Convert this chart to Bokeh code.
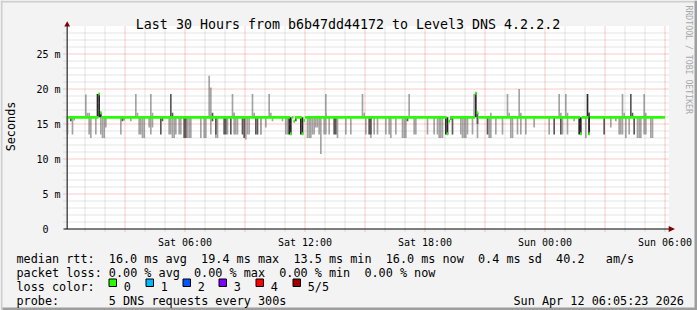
import math
import re
from bokeh.plotting import figure
from bokeh.models import Range1d, ColumnDataSource
from bokeh.core.properties import value
from bokeh.embed import file_html
from bokeh.resources import INLINE

# ---------------- data ----------------
title_text = "Last 30 Hours from b6b47dd44172 to Level3 DNS 4.2.2.2"
y_label = "Seconds"
watermark = "RRDTOOL / TOBI OETIKER"
x_ticks = [6, 12, 18, 24, 30]                       # hours since Sat 00:00
x_tick_labels = ["Sat 06:00", "Sat 12:00", "Sat 18:00", "Sun 00:00", "Sun 06:00"]
y_ticks = [0, 5, 10, 15, 20, 25]                    # milliseconds
y_tick_labels = ["0\u00a0\u00a0", "5 m", "10 m", "15 m", "20 m", "25 m"]

step_hours = 5 / 60          # one 5-minute RRD step
first_step, last_step = 1, 359
median_base = 15.95          # ms, median rtt most of the time

# smoke below the median: hour of step, lowest ping (ms), shade (l=light, d=dark, k=black)
dn_h = [0.15, 0.25, 0.37, 0.45, 1.22, 1.32, 1.52, 1.80, 1.90, 1.98,
        2.08, 2.75, 2.85, 2.97, 3.33, 3.70, 3.77, 3.85, 3.92, 4.22,
        4.30, 4.40, 4.78, 4.88, 5.20, 5.27, 5.35, 5.42, 5.50, 5.70,
        5.83, 5.95, 6.03, 6.13, 6.20, 6.28, 6.83, 6.92, 7.00, 7.30,
        7.38, 7.50, 7.58, 7.65, 7.95, 8.03, 8.15, 8.30, 8.47, 8.55,
        8.65, 8.85, 8.93, 9.00, 9.10, 9.22, 9.55, 9.63, 9.75, 9.82,
        10.00, 10.35, 10.88, 11.07, 11.15, 11.23, 11.32, 11.50, 11.83, 11.90,
        12.15, 12.23, 12.31, 12.40, 12.48, 12.57, 12.65, 12.72, 12.80, 12.97,
        13.05, 13.22, 13.47, 13.55, 13.65, 14.07, 14.32, 15.05, 15.20, 15.27,
        15.33, 15.48, 15.65, 16.02, 16.23, 16.30, 16.52, 16.87, 16.95, 17.03,
        17.10, 17.47, 17.53, 18.15, 18.45, 18.65, 18.73, 18.82, 18.90, 19.05,
        19.13, 19.30, 19.40, 19.78, 19.85, 19.93, 20.00, 20.15, 20.38, 20.60,
        20.65, 21.10, 21.18, 21.26, 21.50, 21.88, 22.33, 22.40, 22.60, 22.80,
        23.05, 23.48, 24.20, 24.47, 24.75, 24.88, 25.15, 25.45, 25.72, 25.80,
        26.03, 26.17, 26.23, 26.97, 27.30, 27.55, 27.70, 27.77, 27.85, 28.00,
        28.20, 28.47, 28.63, 28.72, 28.80, 28.93, 29.00, 29.33, 29.40]
dn_lo = [13.5, 15.4, 13.5, 15.5, 13.5, 13.0, 13.5, 13.5, 13.0, 13.0,
         14.5, 13.5, 15.4, 15.5, 15.4, 13.5, 13.5, 13.0, 13.0, 14.5,
         13.5, 14.5, 13.5, 15.4, 13.5, 13.5, 13.0, 13.0, 13.5, 13.5,
         13.5, 13.0, 13.0, 13.0, 13.0, 13.0, 13.0, 13.0, 13.0, 13.5,
         15.4, 13.5, 13.0, 13.0, 13.5, 13.5, 13.5, 13.5, 13.5, 13.5,
         13.5, 13.5, 13.0, 12.8, 13.5, 13.5, 13.5, 13.5, 13.5, 13.5,
         14.5, 15.4, 15.4, 13.5, 13.5, 13.5, 13.5, 15.4, 13.5, 13.5,
         13.0, 13.0, 13.0, 13.5, 13.5, 14.5, 14.5, 13.5, 10.7, 13.5,
         13.5, 13.5, 13.5, 13.5, 13.0, 13.5, 13.5, 13.5, 13.5, 13.5,
         13.0, 13.5, 13.5, 13.5, 13.5, 13.0, 13.5, 13.0, 13.0, 13.0,
         15.4, 13.5, 13.5, 13.5, 13.5, 13.5, 13.0, 13.0, 13.0, 13.5,
         13.5, 15.6, 13.5, 13.5, 13.0, 13.0, 13.0, 13.5, 13.5, 15.0,
         13.0, 13.5, 13.0, 13.0, 13.5, 13.5, 13.0, 13.0, 13.5, 13.5,
         13.5, 14.5, 13.5, 13.5, 13.5, 13.5, 13.5, 15.4, 13.5, 13.5,
         13.0, 13.5, 13.5, 13.5, 14.5, 15.4, 13.5, 13.5, 13.5, 13.0,
         13.5, 13.5, 13.0, 13.0, 13.0, 13.5, 13.5, 13.0, 13.0]
dn_shade = list("ldllllllll" "lldlllllll" "llddllllll" "lddlllllll"
                "ddllddldll" "lddlllddll" "lllllkkdkk" "llllllllll"
                "llddlllldd" "llllllllll" "dllllllllk" "kddlllllld"
                "ldllllllll" "lllddlllkk" "lkkdllllll" "ldlllllll")

# smoke above the median: hour of step, highest ping (ms), shade
up_h = [1.05, 1.10, 1.17, 1.62, 1.70, 1.78, 3.58, 3.65, 4.32, 4.38,
        5.32, 5.38, 7.22, 7.28, 7.35, 8.35, 8.42, 8.48, 9.35, 9.42,
        10.22, 10.28, 13.02, 13.08, 14.85, 14.92, 17.22, 20.45, 20.52, 20.60,
        21.27, 22.15, 22.22, 22.73, 22.80, 24.70, 24.78, 25.05, 25.12, 26.10,
        26.17, 26.23, 27.87, 27.93, 28.30, 28.37, 28.97, 29.03]
up_hi = [19.2, 16.6, 16.6, 19.3, 19.3, 16.6, 19.3, 16.6, 19.3, 16.6,
         19.3, 16.6, 21.9, 20.2, 16.6, 19.3, 16.6, 16.6, 19.3, 16.6,
         19.3, 16.6, 19.3, 16.6, 19.3, 16.6, 19.3, 19.3, 19.5, 16.6,
         16.6, 19.3, 16.6, 20.0, 16.6, 19.3, 16.6, 19.3, 16.6, 19.3,
         16.6, 16.6, 19.3, 16.6, 19.3, 16.6, 19.3, 16.6]
up_shade = list("lllkkkllll" "ddlldlllll" "llllllllkd" "lllllllllk" "ddllddll")

# steps where the median itself moved away from its usual level
med_h = [1.70, 1.78, 11.32, 11.45, 11.90, 11.98, 19.13, 19.22, 20.52, 20.60, 25.80, 26.23]
med_v = [19.3, 16.6, 13.6, 15.4, 13.6, 15.5, 13.6, 15.4, 19.4, 16.6, 13.6, 13.6]

# legend statistics
rtt_avg, rtt_max, rtt_min, rtt_now, rtt_sd, rtt_ams = 16.0, 19.4, 13.5, 16.0, 0.4, 40.2
loss_avg, loss_max, loss_min, loss_now = 0.0, 0.0, 0.0, 0.0
loss_labels = ["0", "1", "2", "3", "4", "5/5"]
loss_colors = ["#26ff00", "#00b8ff", "#0059ff", "#7e00ff", "#ff0000", "#a10000"]
probe_text = "5 DNS requests every 300s"
stamp_text = "Sun Apr 12 06:05:23 2026"

# ---------------- layout helpers (image pixels -> data units) ----------------
def X(px):
    return (px - 64.5) / 20.0

def Y(py):
    return (228.5 - py) / 7.0

BG = "#f3f3f3"
MONO = "DejaVu Sans Mono"

p = figure(width=697, height=310,
           x_range=Range1d(X(0), X(697)), y_range=Range1d(Y(310), Y(0)),
           output_backend="svg", toolbar_location=None,
           x_axis_location=None, y_axis_location=None,
           min_border_left=0, min_border_right=0, min_border_top=0, min_border_bottom=0,
           background_fill_color=BG, border_fill_color=BG, outline_line_color=None)
p.grid.visible = False

# 3D frame of the image
p.quad(left=[X(0), X(0), X(694), X(2)], right=[X(697), X(2), X(697), X(697)],
       top=[Y(0), Y(0), Y(0), Y(307)], bottom=[Y(2), Y(310), Y(310), Y(310)],
       fill_color=["#cecece", "#cecece", "#9e9e9e", "#9e9e9e"], line_color=None)

# canvas (white plotting area)
p.quad(left=[X(66)], right=[X(668.5)], bottom=[0], top=[Y(25.5)],
       fill_color="#ffffff", line_color=None)

# smoke
STEP = step_hours

def step_left(h):
    return math.floor(h / STEP + 1e-9) * STEP

shade_color = {"l": "#a4a4a4", "d": "#585858", "k": "#262626"}
layers = {s: dict(left=[], right=[], bottom=[], top=[]) for s in "ldk"}
for h, lo, s in zip(dn_h, dn_lo, dn_shade):
    L = step_left(h)
    layers[s]["left"].append(L)
    layers[s]["right"].append(L + STEP)
    layers[s]["bottom"].append(lo)
    layers[s]["top"].append(median_base)
for h, hi, s in zip(up_h, up_hi, up_shade):
    L = step_left(h)
    layers[s]["left"].append(L)
    layers[s]["right"].append(L + STEP)
    layers[s]["bottom"].append(median_base)
    layers[s]["top"].append(hi)
for s in "ldk":
    p.quad(left="left", right="right", bottom="bottom", top="top",
           source=ColumnDataSource(layers[s]), fill_color=shade_color[s], line_color=None)

# grid (drawn over the smoke, like rrdtool)
minor_v = [h for h in range(1, 31) if h % 3]
major_v = list(range(3, 31, 3))
minor_hz = [m for m in range(1, 29) if m % 5]
major_hz = [5, 10, 15, 20, 25]
p.segment(x0=minor_v, x1=minor_v, y0=[Y(231)] * len(minor_v), y1=[Y(26)] * len(minor_v),
          line_color="#7a7a7a", line_alpha=0.4, line_width=1, line_dash="1 1")
p.segment(x0=[X(63)] * len(minor_hz), x1=[X(668)] * len(minor_hz), y0=minor_hz, y1=minor_hz,
          line_color="#7a7a7a", line_alpha=0.4, line_width=1, line_dash="1 1")
p.segment(x0=major_v, x1=major_v, y0=[Y(231)] * len(major_v), y1=[Y(26)] * len(major_v),
          line_color="#e03030", line_alpha=0.5, line_width=1, line_dash="1 1")
p.segment(x0=[X(63)] * len(major_hz), x1=[X(668)] * len(major_hz), y0=major_hz, y1=major_hz,
          line_color="#e03030", line_alpha=0.5, line_width=1, line_dash="1 1")

# median line (drawn as a thin band per 5-minute step, as smokeping does)
med_override = {int(math.floor(h / STEP + 1e-9)): v for h, v in zip(med_h, med_v)}
runs = []
for k in range(first_step, last_step + 1):
    v = med_override.get(k, median_base)
    if runs and runs[-1][2] == v and runs[-1][1] == k:
        runs[-1][1] = k + 1
    else:
        runs.append([k, k + 1, v])
p.quad(left=[r[0] * STEP for r in runs], right=[r[1] * STEP for r in runs],
       bottom=[r[2] - 0.21 for r in runs], top=[r[2] + 0.21 for r in runs],
       fill_color=loss_colors[0], line_color=None)

# axes with arrows
p.segment(x0=[X(66.7)], x1=[X(66.7)], y0=[Y(228.5)], y1=[Y(24)], line_color="#505050", line_width=1.5)
p.segment(x0=[X(63)], x1=[X(669)], y0=[0], y1=[0], line_color="#000000", line_width=1)
p.patch(x=[X(63.8), X(69.6), X(66.7)], y=[Y(26), Y(26), Y(20.8)], fill_color="#7f0000", line_color=None)
p.patch(x=[X(668.2), X(668.2), X(674.5)], y=[Y(225.5), Y(231.5), Y(228.5)], fill_color="#7f0000", line_color=None)

# tick labels at the tick values
p.text(x=[X(60)] * len(y_ticks), y=y_ticks, text=y_tick_labels,
       text_font=value(MONO), text_font_size=value("10px"), text_color="#000000",
       text_align="right", text_baseline="middle")
p.text(x=x_ticks, y=[Y(241.5)] * len(x_ticks), text=x_tick_labels,
       text_font=value(MONO), text_font_size=value("10px"), text_color="#000000",
       text_align="center", text_baseline="alphabetic")

# ---------------- texts ----------------
def add_text(px, py, text, size, align="left", baseline="alphabetic", angle=0.0, color="#000000"):
    p.text(x=[X(px)], y=[Y(py)], text=[text], text_font=value(MONO), text_font_size=value(size),
           text_align=align, text_baseline=baseline, angle=angle, text_color=color)

add_text(347.5, 24, title_text, "13.3px", align="center")
add_text(10.5, 126, y_label, "11.8px", align="center", baseline="middle", angle=math.pi / 2)
add_text(688.5, 5, watermark, "8.2px", align="left", baseline="middle", angle=-math.pi / 2, color="#a8a8a8")

row1 = (f"median rtt:  {rtt_avg:.1f} ms avg  {rtt_max:.1f} ms max  {rtt_min:.1f} ms min  "
        f"{rtt_now:.1f} ms now  {rtt_sd:.1f} ms sd  {rtt_ams:.1f}   am/s")
row2 = (f"packet loss: {loss_avg:.2f} % avg  {loss_max:.2f} % max  "
        f"{loss_min:.2f} % min  {loss_now:.2f} % now")
row3 = "loss color:"
row4 = f"probe:       {probe_text}"
CH = 7.1
for row, base in ((row1, 258), (row2, 272), (row3, 286), (row4, 300)):
    for m in re.finditer(r"\S+(?: \S+)*", row):
        add_text(16 + m.start() * CH, base, m.group(0), "11.8px")
add_text(513, 300, stamp_text, "11.8px")

box_left = [108.5 + round(i * 36.8) for i in range(len(loss_labels))]
p.quad(left=[X(b) for b in box_left], right=[X(b + 7.5) for b in box_left],
       top=[Y(278.5)] * len(box_left), bottom=[Y(286)] * len(box_left),
       fill_color=loss_colors, line_color="#000000", line_width=1)
for b, lab in zip(box_left, loss_labels):
    add_text(b + 14.7, 286, lab, "11.8px")

open("out.html", "w").write(file_html(p, INLINE))
